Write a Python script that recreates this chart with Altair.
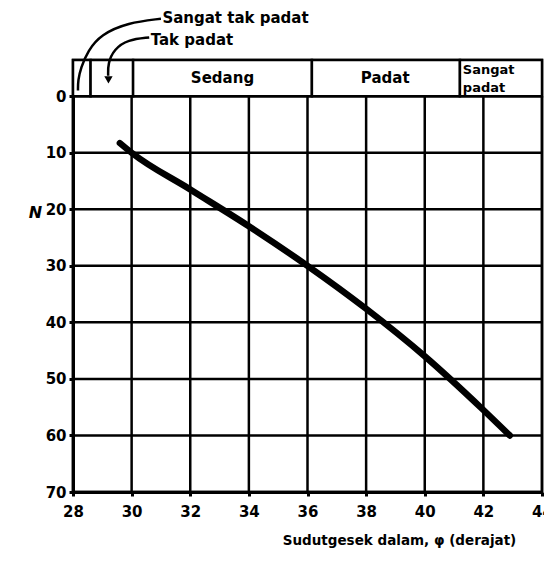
import altair as alt
import pandas as pd

# ---- data ----
curve_x = [29.6, 30.0, 32.0, 34.0, 36.0, 38.0, 40.0, 42.0, 42.9]
curve_n = [8.3, 10.0, 16.5, 23.0, 30.0, 37.6, 46.0, 55.5, 60.0]

x_ticks = [28, 30, 32, 34, 36, 38, 40, 42, 44]
n_ticks = [0, 10, 20, 30, 40, 50, 60, 70]

band_edges = [28.0, 28.6, 30.05, 36.15, 41.2, 44.0]
band_top = -6.4

center_labels = ["Sedang", "Padat"]
center_label_x = [33.1, 38.65]
corner_label = ["Sangat", "padat"]
corner_label_n = [-4.7, -1.5]
corner_label_x = 41.3

note_labels = ["Sangat tak padat", "Tak padat"]
note_x = [31.05, 30.65]
note_n = [-13.8, -9.9]

arrow1_x = [31.0, 29.87, 28.95, 28.51, 28.27, 28.17, 28.17]
arrow1_n = [-13.7, -13.0, -10.9, -8.05, -5.06, -2.8, -1.0]
arrow2_x = [30.6, 29.87, 29.40, 29.19, 29.2]
arrow2_n = [-10.4, -10.0, -8.3, -5.8, -3.6]
arrowhead_x = [29.21]
arrowhead_n = [-2.9]

FONT = "DejaVu Sans"

xs = alt.Scale(domain=[28, 44], nice=False, zero=False)
ys = alt.Scale(domain=[band_top, 70], reverse=True, nice=False, zero=False)

x_axis = alt.Axis(values=x_ticks, grid=False, domainColor="black", domainWidth=3,
                  tickColor="black", tickWidth=3, tickSize=4, labelPadding=8,
                  labelFlush=False, labelOverlap=False,
                  labelFont=FONT, labelFontSize=15, labelFontWeight="bold",
                  labelColor="black", title="Sudutgesek dalam, φ (derajat)",
                  titleFont=FONT, titleFontSize=13.5, titleFontWeight="bold",
                  titleColor="black", titleX=326, titleY=48, titleBaseline="middle")
y_axis = alt.Axis(values=n_ticks, grid=False, domainColor="black", domainWidth=3,
                  tickColor="black", tickWidth=3, tickSize=4, labelPadding=3,
                  labelFlush=False, labelOverlap=False,
                  labelFont=FONT, labelFontSize=15, labelFontWeight="bold",
                  labelColor="black", title="N", titleAngle=0,
                  titleFont=FONT, titleFontSize=16, titleFontWeight="bold",
                  titleFontStyle="italic", titleColor="black",
                  titleX=-38, titleY=152, titleAlign="center", titleBaseline="middle")

X = alt.X("x:Q", scale=xs, axis=x_axis)
Y = alt.Y("n:Q", scale=ys, axis=y_axis)

vgrid = pd.DataFrame({"x": x_ticks, "n": [0] * len(x_ticks), "n2": [70] * len(x_ticks)})
hgrid = pd.DataFrame({"n": n_ticks, "x": [28] * len(n_ticks), "x2": [44] * len(n_ticks)})
band = pd.DataFrame({"x": band_edges[:-1], "x2": band_edges[1:],
                     "n": [band_top] * 5, "n2": [0] * 5})
curve = pd.DataFrame({"x": curve_x, "n": curve_n, "i": range(len(curve_x))})
clab = pd.DataFrame({"x": center_label_x, "n": [-3.3] * 2, "t": center_labels})
corner = pd.DataFrame({"x": [corner_label_x] * 2, "n": corner_label_n, "t": corner_label})
notes = pd.DataFrame({"x": note_x, "n": note_n, "t": note_labels})
a1 = pd.DataFrame({"x": arrow1_x, "n": arrow1_n, "i": range(len(arrow1_x))})
a2 = pd.DataFrame({"x": arrow2_x, "n": arrow2_n, "i": range(len(arrow2_x))})
ah = pd.DataFrame({"x": arrowhead_x, "n": arrowhead_n})

vg = alt.Chart(vgrid).mark_rule(color="black", strokeWidth=2.5).encode(x=X, y=Y, y2="n2:Q")
hg = alt.Chart(hgrid).mark_rule(color="black", strokeWidth=2.5).encode(x=X, x2="x2:Q", y=Y)
bd = alt.Chart(band).mark_rect(fill="white", stroke="black", strokeWidth=2.5).encode(
    x=X, x2="x2:Q", y=Y, y2="n2:Q")
cv = alt.Chart(curve).mark_line(color="black", strokeWidth=6.5, strokeCap="round",
                                interpolate="monotone").encode(x=X, y=Y, order="i:O")
ct = alt.Chart(clab).mark_text(font=FONT, fontSize=15, fontWeight="bold", color="black",
                               baseline="middle").encode(x=X, y=Y, text="t:N")
cr = alt.Chart(corner).mark_text(font=FONT, fontSize=13, fontWeight="bold", color="black",
                                 baseline="middle", align="left").encode(x=X, y=Y, text="t:N")
nt = alt.Chart(notes).mark_text(font=FONT, fontSize=15, fontWeight="bold", color="black",
                                baseline="middle", align="left").encode(x=X, y=Y, text="t:N")
l1 = alt.Chart(a1).mark_line(color="black", strokeWidth=2.5, interpolate="basis").encode(
    x=X, y=Y, order="i:O")
l2 = alt.Chart(a2).mark_line(color="black", strokeWidth=2.5, interpolate="basis").encode(
    x=X, y=Y, order="i:O")
hd = alt.Chart(ah).mark_point(shape="triangle-down", filled=True, color="black", size=70,
                              opacity=1).encode(x=X, y=Y)

chart = alt.layer(vg, hg, bd, cv, ct, cr, nt, l1, l2, hd).properties(
    width=469, height=432,
    autosize=alt.AutoSizeParams(type="none"),
    padding={"left": 65, "top": 52, "right": 2, "bottom": 56},
).configure_view(stroke="black", strokeWidth=2.5)

chart.save("out.html", embed_options={"renderer": "svg", "actions": False})
